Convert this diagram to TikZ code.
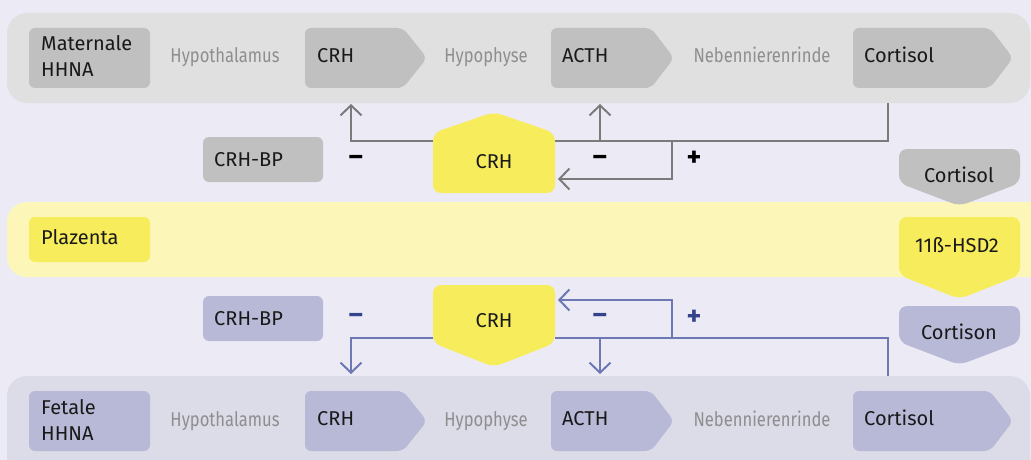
\documentclass[tikz,border=0pt]{standalone}
\usepackage{fontspec}
\setmainfont{Fira Sans}
\newfontfamily\condf[FakeStretch=0.83]{Fira Sans}
\usetikzlibrary{arrows.meta}
\definecolor{bg}{HTML}{ECEBF5}
\definecolor{bandgray}{HTML}{E0E0E0}
\definecolor{boxgray}{HTML}{C0C0C0}
\definecolor{txtgray}{HTML}{8E8E8E}
\definecolor{linegray}{HTML}{7B7B7B}
\definecolor{yel}{HTML}{F7EC5B}
\definecolor{bandyel}{HTML}{FCF6B8}
\definecolor{boxlav}{HTML}{B8B9D7}
\definecolor{bandlav}{HTML}{DCDBE8}
\definecolor{lineblue}{HTML}{6E78B4}
\definecolor{signblue}{HTML}{34448C}
\tikzset{
  lbl/.style={inner sep=0pt, text=black!90, font=\fontsize{20}{26}\selectfont, align=left},
  glbl/.style={inner sep=0pt, text=txtgray, font=\condf\fontsize{20}{26}\selectfont},
  minus/.style={inner sep=0pt, font=\bfseries\fontsize{27}{30}\selectfont},
  plus/.style={inner sep=0pt, font=\bfseries\fontsize{28}{30}\selectfont},
  gline/.style={draw=linegray, line width=2pt},
  bline/.style={draw=lineblue, line width=2pt},
  tip/.style={-{Straight Barb[length=10pt,width=21pt]}},
  rbox/.style={rounded corners=6pt},
}
\begin{document}
\begin{tikzpicture}[x=1pt,y=-1pt]
\useasboundingbox (0,0) rectangle (1031,460);
\clip (0,0) rectangle (1031,460);
\fill[bg] (0,0) rectangle (1031,460);
% bands
\fill[bandgray, rounded corners=20pt] (7,13) rectangle (1030,103);
\fill[bandyel, rounded corners=20pt] (7,202) rectangle (1070,277);
\fill[bandlav, rounded corners=20pt] (7,376) rectangle (1030,490);

% ---------- top row (maternal) ----------
\fill[boxgray, rbox] (29,28) rectangle (150,88);
\fill[boxgray, rbox] (305,28) -- (403,28) -- (427,58) -- (403,88) -- (305,88) -- cycle;
\fill[boxgray, rbox] (551,28) -- (651,28) -- (674,58) -- (651,88) -- (551,88) -- cycle;
\fill[boxgray, rbox] (853,28) -- (990,28) -- (1013,58) -- (990,88) -- (853,88) -- cycle;
\node[lbl, anchor=base west] (mat) at (41,77) {Maternale\\HHNA};
\node[glbl, anchor=base] (mhyp) at (225,63) {Hypothalamus};
\node[lbl, anchor=base west] (mcrh) at (317,63) {CRH};
\node[glbl, anchor=base] (mhph) at (486,63) {Hypophyse};
\node[lbl, anchor=base west] (macth) at (562,63) {ACTH};
\node[glbl, anchor=base] (mnnr) at (762,63) {Nebennierenrinde};
\node[lbl, anchor=base west] (mcort) at (864,63) {Cortisol};

% ---------- bottom row (fetal) ----------
\fill[boxlav, rbox] (29,391) rectangle (150,451);
\fill[boxlav, rbox] (305,391) -- (403,391) -- (427,421) -- (403,451) -- (305,451) -- cycle;
\fill[boxlav, rbox] (551,391) -- (651,391) -- (674,421) -- (651,451) -- (551,451) -- cycle;
\fill[boxlav, rbox] (853,391) -- (990,391) -- (1013,421) -- (990,451) -- (853,451) -- cycle;
\node[lbl, anchor=base west] (fet) at (41,440) {Fetale\\HHNA};
\node[glbl, anchor=base] (fhyp) at (225,426) {Hypothalamus};
\node[lbl, anchor=base west] (fcrh) at (317,425) {CRH};
\node[glbl, anchor=base] (fhph) at (486,426) {Hypophyse};
\node[lbl, anchor=base west] (facth) at (562,425) {ACTH};
\node[glbl, anchor=base] (fnnr) at (762,426) {Nebennierenrinde};
\node[lbl, anchor=base west] (fcort) at (864,425) {Cortisol};

% ---------- placenta ----------
\fill[yel, rbox] (29,217) rectangle (150,262);
\node[lbl, anchor=base west] (plaz) at (41,244) {Plazenta};

% ---------- CRH-BP boxes ----------
\fill[boxgray, rbox] (203,137) rectangle (323,182);
\node[lbl, anchor=base west] (mbp) at (214,166) {CRH-BP};
\fill[boxlav, rbox] (203,296) rectangle (323,341);
\node[lbl, anchor=base west] (fbp) at (214,325) {CRH-BP};

% ---------- connectors (upper, grey) ----------
\coordinate (uCrhL) at (433,141);
\coordinate (uCrhR) at (555,141);
\coordinate (uHypIn) at (351,104);
\coordinate (uActhIn) at (600,104);
\coordinate (uCortOut) at (888,103);
\coordinate (uJ1) at (600,141);
\coordinate (uJ2) at (672,141);
\coordinate (uBack) at (558,179);
\draw[gline, tip] (uCrhL) -| (uHypIn);
\draw[gline] (uCortOut) |- (uCrhR);
\draw[gline, tip] (uJ1) -- (uActhIn);
\draw[gline, tip] (uJ2) |- (uBack);

% ---------- connectors (lower, blue) ----------
\coordinate (lCrhL) at (433,338);
\coordinate (lCrhR) at (555,338);
\coordinate (lHypIn) at (351,374);
\coordinate (lActhIn) at (600,374);
\coordinate (lCortOut) at (888,376);
\coordinate (lJ1) at (600,338);
\coordinate (lJ2) at (672,338);
\coordinate (lBack) at (558,300);
\draw[bline, tip] (lCrhL) -| (lHypIn);
\draw[bline] (lCortOut) |- (lCrhR);
\draw[bline, tip] (lJ1) -- (lActhIn);
\draw[bline, tip] (lJ2) |- (lBack);

% ---------- CRH pentagons ----------
\fill[yel, rounded corners=8pt] (433,193) -- (433,133) -- (494,112) -- (555,133) -- (555,193) -- cycle;
\node[lbl, anchor=base] (mCRH) at (494,168) {CRH};
\fill[yel, rounded corners=8pt] (433,285) -- (555,285) -- (555,343) -- (494,367) -- (433,343) -- cycle;
\node[lbl, anchor=base] (fCRH) at (494,327) {CRH};

% ---------- right column ----------
\fill[boxgray, rounded corners=8pt] (899,149) -- (1020,149) -- (1020,183) -- (959.5,206) -- (899,183) -- cycle;
\node[lbl, anchor=base] (cortm) at (959,182) {Cortisol};
\fill[yel, rounded corners=8pt] (899,217) -- (1020,217) -- (1020,275) -- (959.5,299) -- (899,275) -- cycle;
\node[lbl, anchor=base] (hsd) at (957,252) {11ß-HSD2};
\fill[boxlav, rounded corners=8pt] (899,306) -- (1020,306) -- (1020,342) -- (959.5,365) -- (899,342) -- cycle;
\node[lbl, anchor=base] (corton) at (959,339) {Cortison};

% ---------- signs ----------
\node[minus] (s1) at (356,160) {–};
\node[minus] (s2) at (600,160) {–};
\node[plus] (s3) at (694,159) {+};
\node[minus, text=signblue] (s4) at (356,318) {–};
\node[minus, text=signblue] (s5) at (600,318) {–};
\node[plus, text=signblue] (s6) at (694,318) {+};
\end{tikzpicture}
\end{document}
